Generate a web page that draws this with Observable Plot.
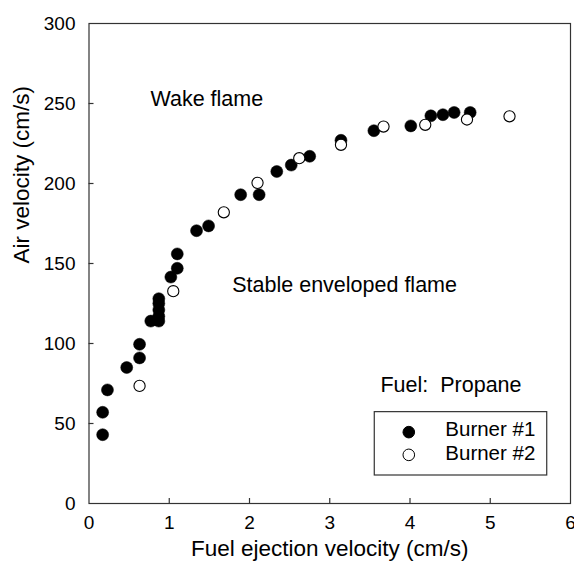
<!DOCTYPE html>
<html>
<head>
<meta charset="utf-8">
<script src="https://cdn.jsdelivr.net/npm/d3@7"></script>
<script src="https://cdn.jsdelivr.net/npm/@observablehq/plot@0.6"></script>
<style>
  html, body { margin: 0; padding: 0; background: #fff; }
  #chart { width: 574px; height: 568px; }
</style>
</head>
<body>
<div id="chart"></div>
<script>
// Burner #1 (filled circles)
const burner1X = [0.17, 0.17, 0.23, 0.47, 0.63, 0.63, 0.77, 0.87, 0.87, 0.87, 0.87, 0.87, 1.02, 1.10, 1.10, 1.34, 1.49, 1.89, 2.12, 2.34, 2.52, 2.75, 3.14, 3.55, 4.01, 4.26, 4.41, 4.55, 4.75];
const burner1Y = [43, 57, 71, 85, 91, 99.5, 114, 114, 117, 121, 125, 128, 141.5, 147, 156, 170.5, 173.5, 193, 193, 207.5, 211.5, 217, 227, 233, 236, 242.3, 243, 244.4, 244.4];
// Burner #2 (open circles)
const burner2X = [0.63, 1.05, 1.68, 2.10, 2.62, 3.14, 3.67, 4.19, 4.71, 5.24];
const burner2Y = [73.5, 132.7, 182, 200.4, 215.8, 224.2, 235.6, 236.7, 240, 242];

const xTicks = [0, 1, 2, 3, 4, 5, 6];
const yTicks = [0, 50, 100, 150, 200, 250, 300];

// Annotations (text, x, y in data units)
const noteText = ["Wake flame", "Stable enveloped flame", "Fuel:  Propane"];
const noteX = [0.766, 1.785, 3.632];
const noteY = [248.75, 132.1, 69.4];

// Legend
const legendLabels = ["Burner #1", "Burner #2"];
const legendFill = ["black", "white"];
const legendMarkX = [3.985, 3.985];
const legendMarkY = [44.6, 30.4];
const legendTextX = [4.44, 4.44];
const legendTextY = [41.9, 26.9];
const legendBox = {x1: 3.561, x2: 5.71, y1: 17.5, y2: 57.1};

const b1 = burner1X.map((x, i) => ({x, y: burner1Y[i]}));
const b2 = burner2X.map((x, i) => ({x, y: burner2Y[i]}));
const notes = noteText.map((t, i) => ({t, x: noteX[i], y: noteY[i]}));
const legMarks = legendLabels.map((l, i) => ({l, x: legendMarkX[i], y: legendMarkY[i], f: legendFill[i]}));
const legTexts = legendLabels.map((l, i) => ({l, x: legendTextX[i], y: legendTextY[i]}));

const FONT = "'Liberation Sans', Arial, Helvetica, sans-serif";

const chart = Plot.plot({
  width: 574,
  height: 568,
  marginLeft: 88.5,
  marginRight: 4,
  marginTop: 23,
  marginBottom: 65,
  style: {fontFamily: FONT, background: "white", color: "black"},
  x: {domain: [0, 6]},
  y: {domain: [0, 300]},
  marks: [
    Plot.frame({stroke: "#333", strokeWidth: 1.2}),
    // inward tick marks
    Plot.tickX(xTicks.slice(1, -1), {x: d => d, insetTop: 475, stroke: "#333", strokeWidth: 1.2}),
    Plot.tickY(yTicks.slice(1, -1), {y: d => d, insetRight: 476.5, stroke: "#333", strokeWidth: 1.2}),
    Plot.axisX(xTicks, {tickSize: 0, tickPadding: 12, fontSize: 19, label: null}),
    Plot.axisY(yTicks, {tickSize: 0, tickPadding: 13.5, fontSize: 19, label: null}),
    // axis titles
    Plot.text(["Fuel ejection velocity (cm/s)"], {frameAnchor: "bottom", dy: 52, lineAnchor: "bottom", fontSize: 22.5, text: d => d}),
    Plot.text(["Air velocity (cm/s)"], {frameAnchor: "left", dx: -60.5, rotate: -90, lineAnchor: "bottom", fontSize: 22.5, text: d => d}),
    // data
    Plot.dot(b1, {x: "x", y: "y", r: 6, fill: "black", stroke: "black", strokeWidth: 0.5}),
    Plot.dot(b2, {x: "x", y: "y", r: 5.6, fill: "white", stroke: "black", strokeWidth: 1.1}),
    // annotations
    Plot.text(notes, {x: "x", y: "y", text: "t", textAnchor: "start", lineAnchor: "bottom", fontSize: 21.5}),
    // legend
    Plot.rect([legendBox], {x1: "x1", x2: "x2", y1: "y1", y2: "y2", fill: "none", stroke: "#333", strokeWidth: 1.2}),
    Plot.dot(legMarks, {x: "x", y: "y", r: 5.8, fill: "f", stroke: "black", strokeWidth: 1}),
    Plot.text(legTexts, {x: "x", y: "y", text: "l", textAnchor: "start", lineAnchor: "bottom", fontSize: 20.5})
  ]
});
document.getElementById("chart").appendChild(chart);
</script>
</body>
</html>
